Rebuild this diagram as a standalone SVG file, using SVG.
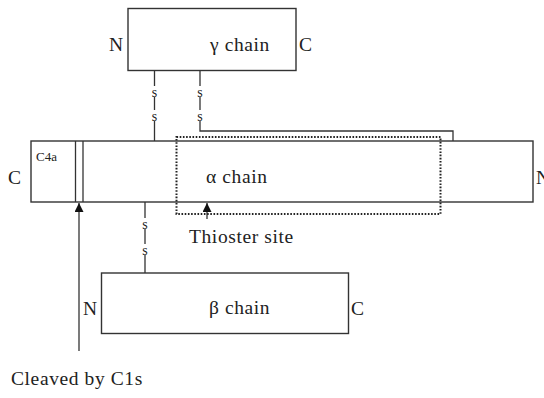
<svg xmlns="http://www.w3.org/2000/svg" width="544" height="398" viewBox="0 0 544 398">
  <defs>
    <style>
      .box { fill: #fff; stroke: #333; stroke-width: 1.4; }
      .ln { fill: none; stroke: #333; stroke-width: 1.3; }
      .dot { fill: none; stroke: #222; stroke-width: 2; stroke-dasharray: 1.6 1.6; }
      .t { font-family: "Liberation Serif", "DejaVu Serif", serif; font-size: 19.5px; letter-spacing: 0.6px; fill: #222; }
      .s { font-family: "Liberation Serif", "DejaVu Serif", serif; font-size: 14px; fill: #222; text-anchor: middle; }
      .small { font-family: "Liberation Serif", "DejaVu Serif", serif; font-size: 13px; fill: #222; }
    </style>
    <marker id="head" viewBox="0 0 10 10" refX="10" refY="5" markerWidth="9" markerHeight="9" markerUnits="userSpaceOnUse" orient="auto">
      <path d="M0,0 L10,5 L0,10 Z" fill="#111"/>
    </marker>
  </defs>

  <rect width="544" height="398" fill="#fff"/>

  <!-- disulfide bridges and arrows -->
  <g id="connectors">
    <!-- gamma to alpha, left bridge -->
    <path class="ln" d="M154.5,70 V86 M154.5,97 V110 M154.5,121 V141"/>
    <text class="s" x="154.5" y="97">s</text>
    <text class="s" x="154.5" y="121">s</text>
    <!-- gamma to alpha, right bridge routed over to the N-terminal region -->
    <path class="ln" d="M200,70 V86 M200,97 V110 M200,121 V131 H453 V141" stroke="#555"/>
    <text class="s" x="200" y="97">s</text>
    <text class="s" x="200" y="121">s</text>
    <!-- alpha to beta bridge -->
    <path class="ln" d="M145,202 V218 M145,229 V244 M145,255 V273"/>
    <text class="s" x="145" y="229">s</text>
    <text class="s" x="145" y="255">s</text>
    <!-- C1s cleavage arrow -->
    <line class="ln" x1="79" y1="351" x2="79" y2="203" marker-end="url(#head)"/>
    <!-- thioester site arrow -->
    <line class="ln" x1="207" y1="219" x2="207" y2="203" marker-end="url(#head)"/>
  </g>

  <g id="gamma-chain">
    <rect class="box" x="128" y="8.5" width="168" height="62"/>
    <text class="t" x="109" y="51">N</text>
    <text class="t" x="210" y="51">γ chain</text>
    <text class="t" x="299" y="51">C</text>
  </g>

  <g id="alpha-chain">
    <rect class="box" x="31" y="141" width="502" height="61"/>
    <line class="ln" x1="75.5" y1="141" x2="75.5" y2="202"/>
    <line class="ln" x1="83" y1="141" x2="83" y2="202"/>
    <text class="small" x="36" y="161">C4a</text>
    <text class="t" x="8" y="184">C</text>
    <text class="t" x="536" y="184">N</text>
    <text class="t" x="206" y="183">α chain</text>
  </g>

  <g id="thioester-region">
    <rect class="dot" x="176.5" y="137" width="264" height="77"/>
    <text class="t" x="189" y="243">Thioster site</text>
  </g>

  <g id="beta-chain">
    <rect class="box" x="101.5" y="273" width="247" height="60.5"/>
    <text class="t" x="83" y="315">N</text>
    <text class="t" x="209" y="314">β chain</text>
    <text class="t" x="351" y="315">C</text>
  </g>

  <g id="cleavage-label">
    <text class="t" x="11" y="385">Cleaved by C1s</text>
  </g>
</svg>
